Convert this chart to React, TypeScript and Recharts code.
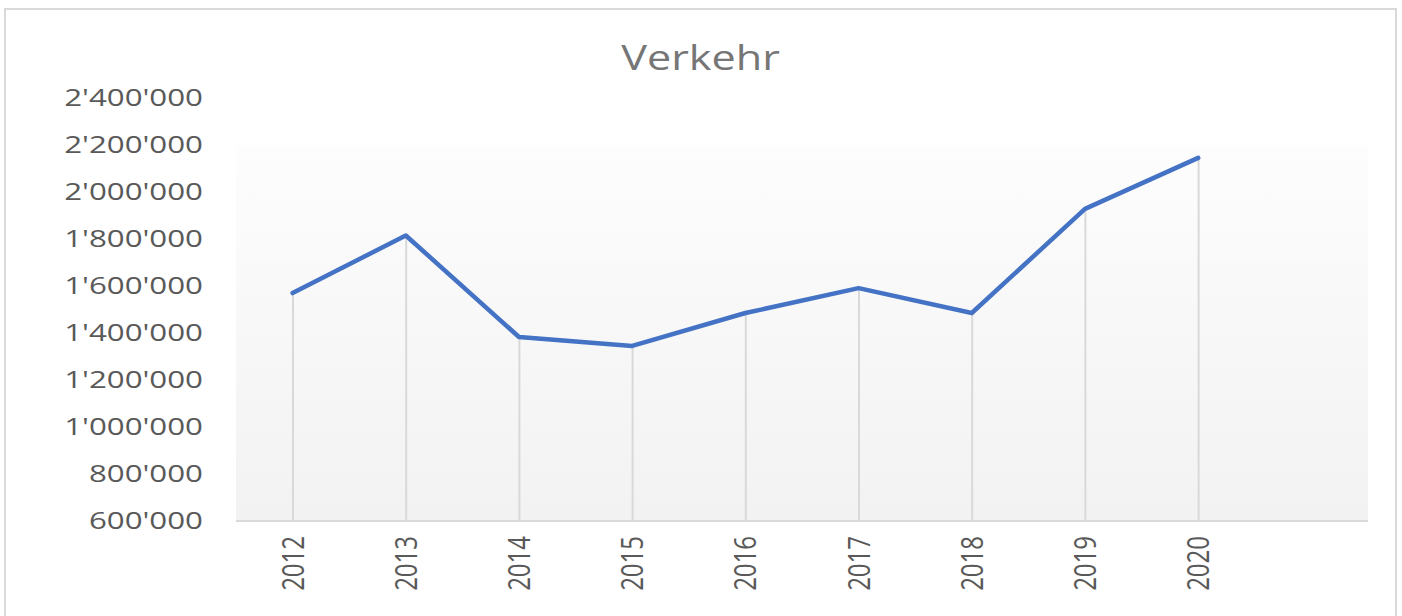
import { ComposedChart, Line, Bar, XAxis, YAxis, ReferenceArea } from "recharts";

// Verkehr per year; the last slot is an empty category (Excel leaves one free)
const years = ["2012", "2013", "2014", "2015", "2016", "2017", "2018", "2019", "2020", ""];
const verkehr = [1570000, 1815000, 1383000, 1345000, 1485000, 1591000, 1485000, 1928000, 2145000, null];
const yTicks = [600000, 800000, 1000000, 1200000, 1400000, 1600000, 1800000, 2000000, 2200000, 2400000];

const data = years.map((year, i) => ({ year, value: verkehr[i] }));

const TEXT = "#595959";
const STRETCH = 1.27;

const fmt = (v: number) => String(v).replace(/\B(?=(\d{3})+(?!\d))/g, "'");

const YTick = ({ x, y, payload }: any) => (
  <g transform={`translate(${x},${y}) scale(1.36,1)`}>
    <text textAnchor="end" dy="0.36em" fill={TEXT} fontSize={23} fontFamily="Open Sans">
      {fmt(payload.value)}
    </text>
  </g>
);

const XTick = ({ x, y, payload }: any) => (
  <g transform={`translate(${x},${y}) scale(${STRETCH},1) rotate(-90)`}>
    <text textAnchor="end" dy="0.36em" fill={TEXT} fontSize={24} fontFamily="Open Sans">
      {payload.value}
    </text>
  </g>
);

const App = () => (
  <div
    style={{
      position: "absolute",
      left: 4,
      top: 8,
      width: 1393,
      height: 640,
      border: "2px solid #d9d9d9",
      boxSizing: "border-box",
      background: "#fff",
    }}
  >
    <div
      style={{
        position: "absolute",
        top: 30,
        left: 0,
        right: 0,
        textAlign: "center",
        fontFamily: "Open Sans",
        fontSize: 34,
        lineHeight: "34px",
        color: "#767676",
        transform: `scaleX(${STRETCH})`,
      }}
    >
      Verkehr
    </div>
    <ComposedChart
      width={1389}
      height={620}
      data={data}
      margin={{ top: 88, right: 27, bottom: 29, left: 0 }}
    >
      <defs>
        <linearGradient id="plotBg" x1="0" y1="0" x2="0" y2="1">
          <stop offset="0%" stopColor="#fdfdfd" />
          <stop offset="100%" stopColor="#f2f2f2" />
        </linearGradient>
      </defs>
      <ReferenceArea y1={600000} y2={2200000} fill="url(#plotBg)" fillOpacity={1} stroke="none" />
      <XAxis
        dataKey="year"
        interval={0}
        height={80}
        axisLine={{ stroke: "#d9d9d9", strokeWidth: 2 }}
        tickLine={false}
        tickMargin={9}
        tick={<XTick />}
      />
      <YAxis
        width={230}
        domain={[600000, 2400000]}
        ticks={yTicks}
        axisLine={false}
        tickLine={false}
        tickMargin={27}
        tick={<YTick />}
      />
      <Bar dataKey="value" barSize={2} fill="#d9d9d9" isAnimationActive={false} />
      <Line
        type="linear"
        dataKey="value"
        stroke="#4472C4"
        strokeWidth={4.5}
        strokeLinejoin="round"
        strokeLinecap="round"
        dot={false}
        activeDot={false}
        isAnimationActive={false}
      />
    </ComposedChart>
  </div>
);

export default App;
